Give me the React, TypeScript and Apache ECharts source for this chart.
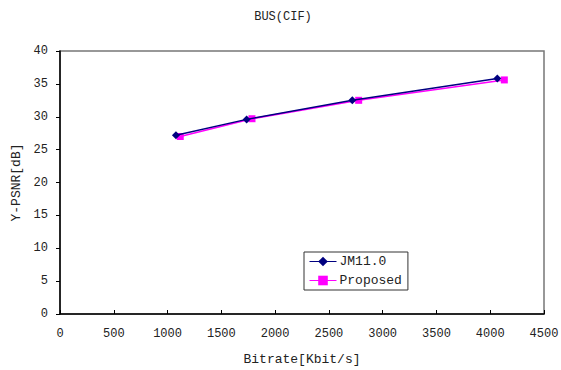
import React, { useEffect, useRef } from "react";
import * as echarts from "echarts";

const titleText = "BUS(CIF)";
const xName = "Bitrate[Kbit/s]";
const yName = "Y-PSNR[dB]";
const jmBitrate = [1078, 1735, 2718, 4066];
const jmPsnr = [27.2, 29.6, 32.5, 35.8];
const propBitrate = [1118, 1785, 2777, 4131];
const propPsnr = [27.0, 29.7, 32.5, 35.6];
const seriesNames = ["JM11.0", "Proposed"];

const FONT = "'Liberation Mono', 'Courier New', monospace";

export default function App() {
  const ref = useRef<HTMLDivElement>(null);
  useEffect(() => {
    if (!ref.current) return;
    const chart = echarts.init(ref.current, null, { renderer: "svg" });
    chart.setOption({
      animation: false,
      backgroundColor: "#fff",
      textStyle: { fontFamily: FONT, color: "#222" },
      title: {
        text: titleText,
        left: 278,
        textAlign: "center",
        top: 6,
        textStyle: { fontFamily: FONT, fontSize: 12, fontWeight: "normal", color: "#222" },
      },
      grid: {
        left: 60,
        top: 51,
        right: 17,
        bottom: 56,
        show: true,
        borderColor: "#777",
        borderWidth: 1.5,
        containLabel: false,
        outerBoundsMode: "none",
      },
      legend: {
        orient: "vertical",
        left: 304,
        top: 252,
        width: 101,
        backgroundColor: "#fff",
        borderColor: "#333",
        borderWidth: 1,
        borderRadius: 0,
        padding: [3, 6, 3, 5],
        itemWidth: 27,
        itemHeight: 12,
        itemGap: 6,
        textStyle: { fontFamily: FONT, fontSize: 13, color: "#222", padding: [0, 0, 0, -2] },
        data: seriesNames.map((n) => ({ name: n, itemStyle: {}, lineStyle: { width: 1 } })),
      },
      xAxis: {
        type: "value",
        min: 0,
        max: 4500,
        interval: 500,
        name: xName,
        nameLocation: "middle",
        nameGap: 39,
        nameTextStyle: { fontFamily: FONT, fontSize: 13, color: "#222" },
        axisLine: { show: true, lineStyle: { color: "#000", width: 1.5 } },
        axisTick: { show: true, inside: true, length: 4, lineStyle: { color: "#000" } },
        axisLabel: { fontFamily: FONT, fontSize: 12, color: "#222", margin: 14, formatter: (v: number) => String(v) },
        splitLine: { show: false },
      },
      yAxis: {
        type: "value",
        min: 0,
        max: 40,
        interval: 5,
        name: yName,
        nameLocation: "middle",
        nameGap: 36,
        nameRotate: 90,
        nameTextStyle: { fontFamily: FONT, fontSize: 13, color: "#222" },
        axisLine: { show: true, lineStyle: { color: "#000", width: 1.5 } },
        axisTick: { show: true, inside: false, length: 4, lineStyle: { color: "#000" } },
        axisLabel: { fontFamily: FONT, fontSize: 12, color: "#222", margin: 12, formatter: (v: number) => String(v) },
        splitLine: { show: false },
      },
      series: [
        {
          name: seriesNames[0],
          type: "line",
          data: jmBitrate.map((x, i) => [x, jmPsnr[i]]),
          symbol: "diamond",
          symbolSize: 8,
          itemStyle: { color: "#000080" },
          lineStyle: { color: "#000080", width: 1.5 },
          z: 3,
        },
        {
          name: seriesNames[1],
          type: "line",
          data: propBitrate.map((x, i) => [x, propPsnr[i]]),
          symbol: "rect",
          symbolSize: 7,
          itemStyle: { color: "#FF00FF" },
          lineStyle: { color: "#FF00FF", width: 1.5 },
          z: 2,
        },
      ],
    });
    return () => chart.dispose();
  }, []);
  return <div ref={ref} style={{ width: 561, height: 370, position: "fixed", left: 0, top: 0 }} />;
}
